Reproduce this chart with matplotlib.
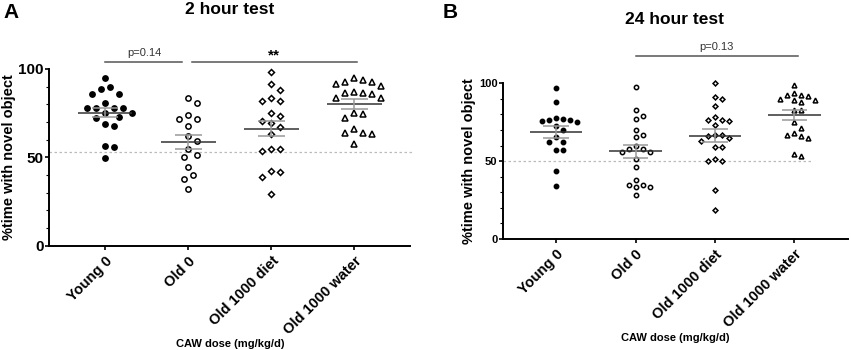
import numpy as np
import matplotlib
matplotlib.use("Agg")
import matplotlib.pyplot as plt
from matplotlib.ticker import MultipleLocator

plt.rcParams['font.family'] = ['Liberation Sans', 'DejaVu Sans']

groups = ['Young 0', 'Old 0', 'Old 1000 diet', 'Old 1000 water']

# 2 hour test (% time with novel object)
young0_2h = [94.7, 90.0, 88.7, 85.7, 85.7, 80.9, 77.9, 77.9, 77.9, 77.9,
             75.3, 75.3, 72.0, 73.0, 68.9, 67.9, 56.6, 55.7, 49.8]
old0_2h = [83.4, 80.9, 74.0, 71.5, 71.7, 67.7, 62.3, 59.4, 54.7, 51.3,
           50.0, 44.4, 39.8, 37.7, 32.1]
diet_2h = [98.1, 91.3, 88.1, 83.4, 82.1, 82.1, 74.9, 73.6, 70.8, 69.6,
           67.3, 63.2, 54.7, 53.6, 54.5, 42.3, 39.1, 41.7, 29.1]
water_2h = [94.7, 93.8, 92.8, 92.8, 91.3, 90.4, 86.2, 87.2, 86.2, 85.7,
            83.4, 83.8, 74.9, 74.5, 72.1, 65.9, 63.6, 64.0, 63.0, 57.4]

# 24 hour test
young0_24h = [97.0, 87.8, 76.6, 77.7, 75.6, 76.2, 77.1, 74.9, 72.4, 69.8,
              65.3, 62.1, 62.1, 57.4, 57.4, 43.5, 34.2]
old0_24h = [97.6, 82.6, 79.2, 77.3, 69.8, 67.0, 65.3, 59.9, 58.0, 57.8,
            55.9, 55.9, 51.6, 46.2, 38.1, 34.9, 33.4, 34.5, 33.2, 28.1]
diet_24h = [100.0, 91.0, 90.1, 85.2, 78.2, 76.6, 76.6, 75.6, 73.4, 67.0,
            67.0, 66.0, 64.9, 63.2, 59.1, 59.1, 51.4, 50.3, 49.9, 31.3, 18.4]
water_24h = [98.7, 93.8, 92.7, 91.7, 92.3, 89.1, 89.5, 89.9, 87.8, 82.6,
             83.0, 74.9, 71.3, 67.0, 68.1, 66.0, 64.9, 53.5, 54.8]

chance_2h = 53
chance_24h = 50

markers = ['o', 'o', 'D', '^']
filled = [True, False, False, False]


def swarm_x(ax, x0, vals, gap):
    """Spread points sideways (in pixels) so they don't overlap."""
    vals = np.asarray(vals, dtype=float)
    ypx = ax.transData.transform(np.column_stack([np.full(len(vals), x0), vals]))[:, 1]
    px_per_unit = ax.transData.transform([[1, 0]])[0, 0] - ax.transData.transform([[0, 0]])[0, 0]
    offs = np.zeros(len(vals))
    placed = []
    for i in np.argsort(-vals):
        for k in range(60):
            off = ((k + 1) // 2) * gap / 2 * (1 if k % 2 else -1)
            if all(np.hypot(off - px, ypx[i] - py) >= gap for px, py in placed):
                break
        placed.append((off, ypx[i]))
        offs[i] = off
    return x0 + offs / px_per_unit


def draw_panel(ax, data, chance, ms, gap, tick_fs, chance_end):
    ax.set_xlim(-0.67, 3.67)
    ax.set_ylim(0, 100)
    for i, vals in enumerate(data):
        xs = swarm_x(ax, i, vals, gap)
        size = ms * (0.8 if markers[i] == 'D' else 1.0) * (1.1 if markers[i] == '^' else 1.0)
        ax.plot(xs, vals, linestyle='none', marker=markers[i], ms=size,
                mfc='black' if filled[i] else 'white', mec='black', mew=1.1,
                zorder=3, clip_on=False)
        m = np.mean(vals)
        sem = np.std(vals, ddof=1) / np.sqrt(len(vals))
        ax.hlines(m, i - 0.33, i + 0.33, color='#333333', lw=1.1, zorder=4)
        ax.hlines([m - sem, m + sem], i - 0.16, i + 0.16, color='#999999', lw=1.1, zorder=4)
        ax.vlines(i, m - sem, m + sem, color='#999999', lw=1.1, zorder=4)
    ax.hlines(chance, -0.67, chance_end, color='#bbbbbb', lw=0.9,
              linestyles=(0, (2, 2)), zorder=1, clip_on=False)

    ax.spines['top'].set_visible(False)
    ax.spines['right'].set_visible(False)
    ax.spines['left'].set_linewidth(1.4)
    ax.spines['bottom'].set_linewidth(1.4)
    ax.set_xticks(range(4))
    ax.set_xticklabels(groups, rotation=45, ha='right', va='top',
                       rotation_mode='anchor', fontweight='bold', fontsize=10.5)
    ax.set_yticks([0, 50, 100])
    ax.yaxis.set_minor_locator(MultipleLocator(10))
    ax.tick_params(axis='y', labelsize=tick_fs, width=1.2, length=3, pad=1)
    ax.tick_params(axis='y', which='minor', width=0.8, length=2)
    ax.tick_params(axis='x', width=1.2, length=3, pad=3)
    for lab in ax.get_yticklabels():
        lab.set_fontweight('bold')
    ax.set_ylabel('%time with novel object', fontweight='bold', fontsize=10.5, labelpad=2)
    ax.set_xlabel('CAW dose (mg/kg/d)', fontweight='bold', fontsize=8, labelpad=1.5)


fig = plt.figure(figsize=(8.51, 3.5), dpi=100)
axA = fig.add_axes([0.058, 0.298, 0.424, 0.505])
axB = fig.add_axes([0.591, 0.317, 0.405, 0.445])

draw_panel(axA, [young0_2h, old0_2h, diet_2h, water_2h], chance_2h,
           ms=3.8, gap=9, tick_fs=11, chance_end=3.72)
draw_panel(axB, [young0_24h, old0_24h, diet_24h, water_24h], chance_24h,
           ms=3.1, gap=7, tick_fs=8, chance_end=3.22)

# significance bars
axA.plot([0, 0.93], [104, 104], color='#555555', lw=1.1, clip_on=False)
axA.text(0.47, 106, 'p=0.14', ha='center', va='bottom', fontsize=8, color='#333333')
axA.plot([1.04, 3.03], [104, 104], color='#555555', lw=1.1, clip_on=False)
axA.text(2.03, 103.5, '**', ha='center', va='bottom', fontsize=11, fontweight='bold')
axB.plot([1, 3.05], [117.7, 117.7], color='#555555', lw=1.1, clip_on=False)
axB.text(2.02, 120, 'p=0.13', ha='center', va='bottom', fontsize=8, color='#333333')

fig.text(0.27, 0.993, '2 hour test', ha='center', va='top', fontsize=12.5, fontweight='bold')
fig.text(0.793, 0.965, '24 hour test', ha='center', va='top', fontsize=12.5, fontweight='bold')
fig.text(0.004, 0.99, 'A', ha='left', va='top', fontsize=15, fontweight='bold')
fig.text(0.52, 0.99, 'B', ha='left', va='top', fontsize=15, fontweight='bold')

fig.savefig('out.png', dpi=100)
